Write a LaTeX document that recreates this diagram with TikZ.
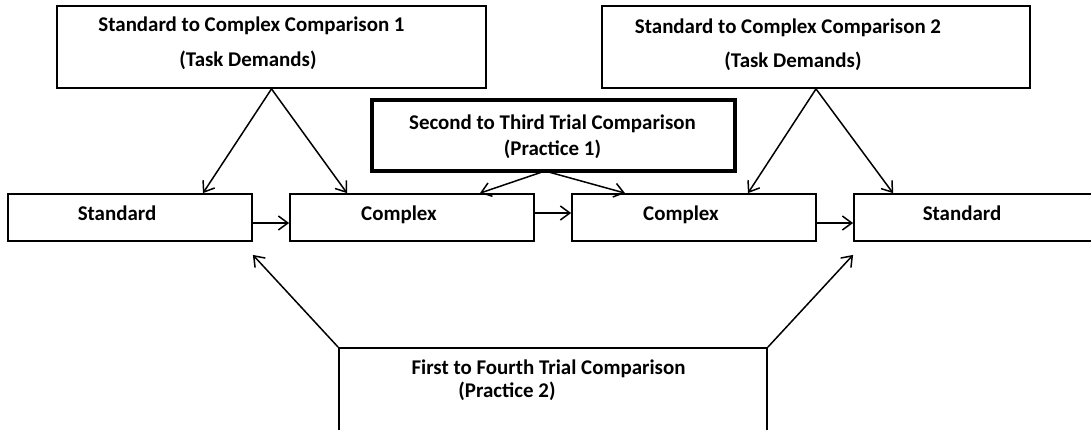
\documentclass[tikz,border=0pt]{standalone}
\usepackage{fontspec}
\setmainfont{Carlito}
\usetikzlibrary{arrows.meta,calc}
\begin{document}
\begin{tikzpicture}[x=1bp,y=-1bp,
  box/.style={draw,line width=1.8bp,inner sep=0pt,minimum width=#1},
  thickbox/.style={draw,line width=4bp,inner sep=0pt},
  txt/.style={anchor=base,inner sep=0pt,font=\fontsize{21}{25}\selectfont\bfseries},
  conn/.style={line width=1.5bp,-{Straight Barb[length=9.5bp,width=14bp,line width=1.5bp]}}]
\useasboundingbox (0,0) rectangle (1091,429);
\clip (0,0) rectangle (1091,429);
\fill[white] (0,0) rectangle (1091,429);
% top boxes
\node[box=429bp,minimum height=82bp] (b1) at (271.5,47) {};
\node[box=428bp,minimum height=82bp] (b2) at (816,47) {};
\node[thickbox,minimum width=363bp,minimum height=71bp] (b3) at (553.5,135.5) {};
% row boxes
\node[box=244bp,minimum height=47bp] (s1) at (130,217.5) {};
\node[box=244bp,minimum height=47bp] (c1) at (412,217.5) {};
\node[box=244bp,minimum height=47bp] (c2) at (694,217.5) {};
\node[box=246bp,minimum height=47bp] (s2) at (977,217.5) {};
% bottom box
\node[box=428bp,minimum height=110bp] (b4) at (553,403) {};
% texts
\node[txt] (t1a) at (251.5,31.5) {Standard to Complex Comparison 1};
\node[txt] (t1b) at (248,66.5) {(Task Demands)};
\node[txt] (t2a) at (788,33) {Standard to Complex Comparison 2};
\node[txt] (t2b) at (793,67) {(Task Demands)};
\node[txt] (t3a) at (552.5,129) {Second to Third Trial Comparison};
\node[txt] (t3b) at (552.5,155) {(Practice 1)};
\node[txt] (ts1) at (117,220) {Standard};
\node[txt] (tc1) at (399,220) {Complex};
\node[txt] (tc2) at (681,220) {Complex};
\node[txt] (ts2) at (962,220) {Standard};
\node[txt] (t4a) at (548.5,374) {First to Fourth Trial Comparison};
\node[txt] (t4b) at (507,397) {(Practice 2)};
% connectors from top boxes
\draw[conn] (b1.south) -- ([xshift=73bp]s1.north);
\draw[conn] (b1.south) -- ([xshift=-65bp]c1.north);
\draw[conn] (b2.south) -- ([xshift=54bp]c2.north);
\draw[conn] (b2.south) -- ([xshift=-84bp]s2.north);
\draw[conn] ($(b3.south)+(-8.5,-2)$) -- ([xshift=68bp]c1.north);
\draw[conn] ($(b3.south)+(-8.5,-2)$) -- ([xshift=-69bp]c2.north);
% horizontal
\draw[conn] ($(s1.east)+(0,5.5)$) -- ($(c1.west)+(0,5.5)$);
\draw[conn] ($(c1.east)+(0,-4.5)$) -- ($(c2.west)+(0,-4.5)$);
\draw[conn] ($(c2.east)+(0,5.5)$) -- ($(s2.west)+(0,5.5)$);
% bottom
\draw[conn] (b4.north west) -- ($(s1.south east)+(0,13)$);
\draw[conn] (b4.north east) -- ($(s2.south west)+(0,13)$);
\end{tikzpicture}
\end{document}
